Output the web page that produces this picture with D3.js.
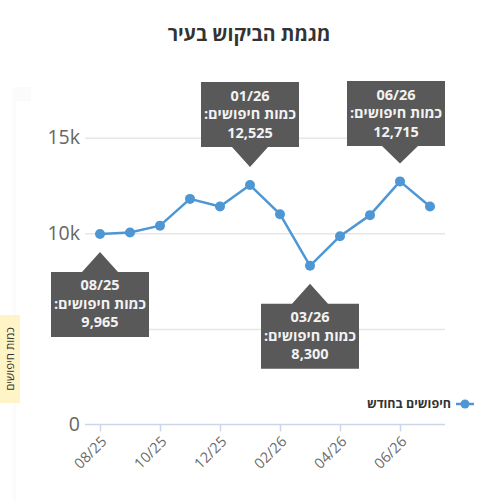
<!DOCTYPE html>
<html>
<head>
<meta charset="utf-8">
<script src="https://cdn.jsdelivr.net/npm/d3@7"></script>
<style>
  body { margin: 0; background: #fff; }
  text { font-family: "Open Sans", "DejaVu Sans", sans-serif; }
</style>
</head>
<body>
<div id="chart"></div>
<script>
// data
var months = ["08/25", "09/25", "10/25", "11/25", "12/25", "01/26",
              "02/26", "03/26", "04/26", "05/26", "06/26", "07/26"];
var searches = [9965, 10040, 10400, 11800, 11400, 12525,
                11000, 8300, 9850, 10950, 12715, 11400];
var calloutMonths = ["08/25", "01/26", "03/26", "06/26"];
var yTicks = [0, 5000, 10000, 15000];
var xTickMonths = ["08/25", "10/25", "12/25", "02/26", "04/26", "06/26"];

var titleText = "מגמת הביקוש בעיר";
var yTitle = "כמות חיפושים";
var seriesName = "חיפושים בחודש";
var calloutLabel = "כמות חיפושים:";

var data = months.map(function (m, i) { return {month: m, value: searches[i]}; });

var lineColor = "#4e97d4";
var W = 500, H = 500;
var plot = {left: 85, right: 445, top: 137.7, bottom: 424.5};

var svg = d3.select("#chart").append("svg")
    .attr("width", W)
    .attr("height", H);

// faint frame on the left edge
svg.append("rect").attr("x", 13).attr("y", 87).attr("width", 18).attr("height", 14).attr("fill", "#fbfbfb");
svg.append("rect").attr("x", 13).attr("y", 87).attr("width", 3).attr("height", 413).attr("fill", "#fbfbfb");

// title
svg.append("text")
    .attr("x", 249)
    .attr("y", 41)
    .attr("text-anchor", "middle")
    .attr("font-size", 19.5)
    .attr("font-weight", "bold")
    .attr("fill", "#333")
    .text(titleText);

var x = d3.scalePoint()
    .domain(months)
    .range([plot.left, plot.right])
    .padding(0.5);

var y = d3.scaleLinear()
    .domain([0, 15000])
    .range([plot.bottom, plot.top]);

// Y axis + grid
var yAxis = svg.append("g")
    .attr("transform", "translate(" + plot.left + ",0)")
    .call(d3.axisLeft(y)
        .tickValues(yTicks)
        .tickSize(-(plot.right - plot.left))
        .tickPadding(5)
        .tickFormat(function (d) { return d === 0 ? "0" : (d / 1000) + "k"; }));
yAxis.select(".domain").remove();
yAxis.selectAll(".tick line")
    .attr("stroke", "#e6e6e6")
    .attr("stroke-width", 1.5)
    .filter(function (d) { return d === 0; }).remove();
yAxis.selectAll(".tick text")
    .attr("font-family", "'Open Sans', sans-serif")
    .attr("font-size", 19.5)
    .attr("fill", "#666");

// X axis
var xAxis = svg.append("g")
    .attr("transform", "translate(0," + plot.bottom + ")")
    .call(d3.axisBottom(x).tickValues(xTickMonths).tickSize(7).tickSizeOuter(0));
xAxis.select(".domain")
    .attr("d", "M" + plot.left + ",0H" + plot.right)
    .attr("stroke", "#ccd6eb")
    .attr("stroke-width", 1.5);
xAxis.selectAll(".tick line").attr("stroke", "#ccd6eb").attr("stroke-width", 1.5);
xAxis.selectAll(".tick text")
    .attr("font-family", "'Open Sans', sans-serif")
    .attr("font-size", 14.5)
    .attr("fill", "#6b6b6b")
    .attr("text-anchor", "end")
    .attr("dy", null)
    .attr("y", null)
    .attr("transform", "translate(7,18) rotate(-45)");

// Y axis title with yellow background
var yt = svg.append("g").attr("transform", "translate(10,359) rotate(-90)");
yt.append("rect")
    .attr("x", -44)
    .attr("y", -10)
    .attr("width", 88)
    .attr("height", 20)
    .attr("fill", "#fff4c6");
yt.append("text")
    .attr("text-anchor", "middle")
    .attr("dy", "0.35em")
    .attr("font-size", 11.5)
    .attr("fill", "#333")
    .text(yTitle);

// line
var line = d3.line()
    .x(function (d) { return x(d.month); })
    .y(function (d) { return y(d.value); });

svg.append("path")
    .datum(data)
    .attr("fill", "none")
    .attr("stroke", lineColor)
    .attr("stroke-width", 2.5)
    .attr("stroke-linejoin", "round")
    .attr("d", line);

svg.selectAll("circle.pt")
    .data(data)
    .enter()
    .append("circle")
    .attr("class", "pt")
    .attr("cx", function (d) { return x(d.month); })
    .attr("cy", function (d) { return y(d.value); })
    .attr("r", 5)
    .attr("fill", lineColor);

// legend
var lg = svg.append("g").attr("transform", "translate(465,404)");
lg.append("line").attr("x1", -9).attr("x2", 9).attr("stroke", lineColor).attr("stroke-width", 2.5);
lg.append("circle").attr("r", 4.5).attr("fill", lineColor);
lg.append("text")
    .attr("x", -14)
    .attr("dy", "0.35em")
    .attr("text-anchor", "end")
    .attr("font-size", 12.5)
    .attr("font-weight", "bold")
    .attr("fill", "#333")
    .text(seriesName);

// callouts
var fmt = d3.format(",");
var boxW = 98, boxH = 65, arrowH = 20, arrowW = 36;
var boxTopMin = 81;

calloutMonths.forEach(function (m) {
    var i = months.indexOf(m);
    var d = data[i];
    var px = x(d.month), py = y(d.value);
    // above when the point rose from the month before, otherwise below
    var above = i > 0 && d.value > data[i - 1].value;
    var bx = Math.min(px - boxW / 2, plot.right - boxW);
    var apex, by, path;
    if (above) {
        apex = py - 18;
        by = Math.max(boxTopMin, apex - arrowH - boxH);
        path = "M" + bx + "," + by + "h" + boxW + "v" + boxH +
            "H" + (px + arrowW / 2) + "L" + px + "," + apex + "L" + (px - arrowW / 2) + "," + (by + boxH) +
            "H" + bx + "Z";
    } else {
        apex = py + 18;
        by = apex + arrowH;
        path = "M" + bx + "," + by + "H" + (px - arrowW / 2) + "L" + px + "," + apex +
            "L" + (px + arrowW / 2) + "," + by + "H" + (bx + boxW) + "v" + boxH + "h" + (-boxW) + "Z";
    }
    var g = svg.append("g");
    g.append("path").attr("d", path).attr("fill", "#595959");
    var cx = bx + boxW / 2;
    [d.month, calloutLabel, fmt(d.value)].forEach(function (t, k) {
        g.append("text")
            .attr("x", cx)
            .attr("y", by + 18.5 + k * 18.5)
            .attr("text-anchor", "middle")
            .attr("direction", k === 1 ? "rtl" : "ltr")
            .attr("font-size", 14.5)
            .attr("font-weight", "bold")
            .attr("fill", "#f2f2f2")
            .text(t);
    });
});
</script>
</body>
</html>
